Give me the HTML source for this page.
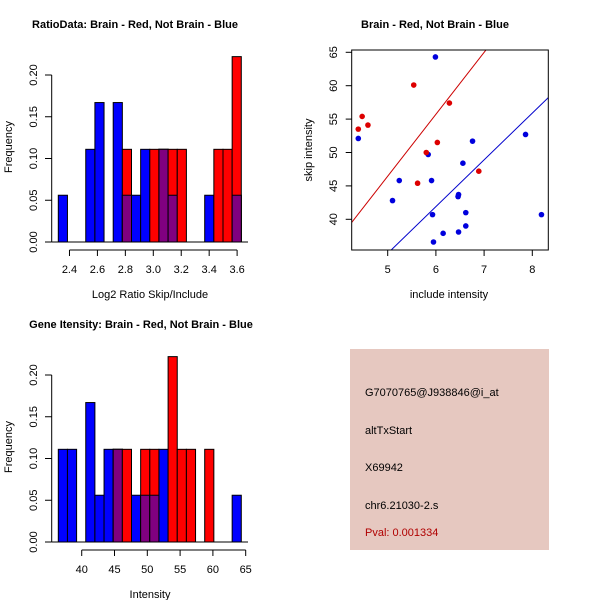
<!DOCTYPE html>
<html><head><meta charset="utf-8"><style>
body{margin:0;background:#fff}
svg{display:block;font-family:"Liberation Sans",sans-serif}
</style></head><body>
<svg id="c" width="600" height="600" xmlns="http://www.w3.org/2000/svg">
<rect width="600" height="600" fill="#fff"/>
<g id="h1"></g>
<g id="h2"></g>
<g id="sc"></g>
<g>
<rect x="350" y="349" width="199" height="201" fill="#E6C8C0"/>
<text x="365" y="396" font-size="11">G7070765@J938846@i_at</text>
<text x="365" y="434" font-size="11">altTxStart</text>
<text x="365" y="471" font-size="11">X69942</text>
<text x="365" y="509" font-size="11">chr6.21030-2.s</text>
<text x="365" y="536" font-size="11" fill="#B00000">Pval: 0.001334</text>
</g>
</svg>
<script>
const ratioBlue=[.056,0,0,.111,.167,0,.167,.056,.056,.111,0,.111,.056,0,0,0,.056,0,0,.056];
const ratioRed=[0,0,0,0,0,0,0,.111,0,0,.111,.111,.111,.111,0,0,0,.111,.111,.222];
const ratioStart=2.32, ratioBinW=0.0655;
const ratioTicks=[2.4,2.6,2.8,3.0,3.2,3.4,3.6];
const intBlue=[.111,.111,0,.167,.056,.111,.111,0,.056,.056,.056,.111,0,0,0,0,0,0,0,.056];
const intRed=[0,0,0,0,0,0,.111,.111,0,.111,.111,0,.222,.111,.111,0,.111,0,0,0];
const intStart=36.43, intBinW=1.395;
const intTicks=[40,45,50,55,60,65];
const freqTicks=[0,0.05,0.10,0.15,0.20];
const redX=[4.39,4.47,4.59,5.54,6.28,6.03,5.80,5.62,6.89];
const redY=[53.5,55.4,54.1,60.1,57.4,51.5,50.0,45.4,47.2];
const blueX=[4.39,5.99,5.84,5.24,5.10,5.91,5.93,5.95,6.15,6.47,6.47,6.46,6.62,6.62,6.56,6.76,7.86,8.19];
const blueY=[52.1,64.3,49.7,45.8,42.8,45.8,40.7,36.6,37.9,38.1,43.7,43.4,39.0,41.0,48.4,51.7,52.7,40.7];
const redFit=[0.1,9.27];
const blueFit=[-0.1,7.0];
const scXTicks=[5,6,7,8];
const scYTicks=[40,45,50,55,60,65];

const NS="http://www.w3.org/2000/svg";
function mk(p,tag,at,txt){const e=document.createElementNS(NS,tag);for(const k in at)e.setAttribute(k,at[k]);if(txt!=null)e.textContent=txt;p.appendChild(e);return e;}

function hist(gid,oy,blue,red,start,bw,xticks,tickFmt,title,xlab,tx){
  const g=document.getElementById(gid);
  const y0=242+oy, yScale=(v)=>y0-v*(167/0.2);
  const x0=58.3, w=(241.3-58.3)/20;
  const xs=(v)=>x0+(v-start)/bw*w;
  for(let i=0;i<20;i++){
    const xl=x0+i*w;
    if(blue[i]>0){const r=mk(g,'rect',{x:xl,y:yScale(blue[i]),width:w,height:y0-yScale(blue[i]),fill:'#0000FF',stroke:'#000','stroke-width':1});
      
      }
    if(red[i]>0){const r=mk(g,'rect',{x:xl,y:yScale(red[i]),width:w,height:y0-yScale(red[i]),fill:'#FF0000',stroke:'#000','stroke-width':1});
      
      }
    const m=Math.min(blue[i],red[i]);
    if(m>0){const r=mk(g,'rect',{x:xl,y:yScale(m),width:w,height:y0-yScale(m),fill:'#800080',stroke:'#000','stroke-width':1});
      
      }
  }
  mk(g,'line',{x1:51.7,x2:248,y1:y0,y2:y0,stroke:'#000'});
  mk(g,'line',{x1:51.7,x2:51.7,y1:yScale(0),y2:yScale(0.2),stroke:'#000'});
  freqTicks.forEach(t=>{const y=yScale(t);mk(g,'line',{x1:45,x2:51.7,y1:y,y2:y,stroke:'#000'});
    const l=mk(g,'text',{x:37,y:y,'font-size':11,'text-anchor':'middle',transform:`rotate(-90 37 ${y})`},t.toFixed(2));
    
    });
  const ya=250+oy;
  mk(g,'line',{x1:xs(xticks[0]),x2:xs(xticks[xticks.length-1]),y1:ya,y2:ya,stroke:'#000'});
  xticks.forEach(t=>{const x=xs(t);mk(g,'line',{x1:x,x2:x,y1:ya,y2:ya+6,stroke:'#000'});
    const l=mk(g,'text',{x:x,y:ya+23,'font-size':11,'text-anchor':'middle'},tickFmt(t));
    
    });
  const t1=mk(g,'text',{x:tx,y:28+oy,'font-size':11,'font-weight':'bold','text-anchor':'middle'},title);
  
  
  const t2=mk(g,'text',{x:150,y:298+oy,'font-size':11,'text-anchor':'middle'},xlab);
  
  
  const yc=147+oy;
  const t3=mk(g,'text',{x:12,y:yc,'font-size':11,'text-anchor':'middle',transform:`rotate(-90 12 ${yc})`},'Frequency');
  
  
}
hist('h1',0,ratioBlue,ratioRed,ratioStart,ratioBinW,ratioTicks,t=>t.toFixed(1),'RatioData: Brain - Red, Not Brain - Blue','Log2 Ratio Skip/Include',135);
hist('h2',300,intBlue,intRed,intStart,intBinW,intTicks,t=>String(t),'Gene Itensity: Brain - Red, Not Brain - Blue','Intensity',141);

(function(){
  const g=document.getElementById('sc');
  const L=351.7,R=548.3,T=50,B=250;
  const xs=v=>387.7+(v-5)*48.2, ys=v=>219.3-(v-40)*6.68;
  const ix=v=>5+(v-387.7)/48.2;
  const cp=mk(g,'clipPath',{id:'clp'});
  mk(cp,'rect',{x:L,y:T,width:R-L,height:B-T});
  [[redFit,'#CC0000','red-fit-line'],[blueFit,'#0000CC','blue-fit-line']].forEach(([f,c,n])=>{
    const a=ix(L),b=ix(R);
    const l=mk(g,'line',{x1:L,y1:ys(f[0]+f[1]*a),x2:R,y2:ys(f[0]+f[1]*b),stroke:c,'clip-path':'url(#clp)'});
    
    
  });
  blueX.forEach((x,i)=>{const c=mk(g,'circle',{cx:xs(x),cy:ys(blueY[i]),r:2.8,fill:'#0000DD'});
    
    });
  redX.forEach((x,i)=>{const c=mk(g,'circle',{cx:xs(x),cy:ys(redY[i]),r:2.8,fill:'#DD0000'});
    
    });
  mk(g,'rect',{x:L,y:T,width:R-L,height:B-T,fill:'none',stroke:'#000'});
  scXTicks.forEach(t=>{const x=xs(t);mk(g,'line',{x1:x,x2:x,y1:B,y2:B+6,stroke:'#000'});
    const l=mk(g,'text',{x:x,y:B+23,'font-size':11,'text-anchor':'middle'},String(t));
    
    });
  scYTicks.forEach(t=>{const y=ys(t);mk(g,'line',{x1:L-6,x2:L,y1:y,y2:y,stroke:'#000'});
    const l=mk(g,'text',{x:337,y:y,'font-size':11,'text-anchor':'middle',transform:`rotate(-90 337 ${y})`},String(t));
    
    });
  const t1=mk(g,'text',{x:435,y:28,'font-size':11,'font-weight':'bold','text-anchor':'middle'},'Brain - Red, Not Brain - Blue');
  
  
  const t2=mk(g,'text',{x:449,y:298,'font-size':11,'text-anchor':'middle'},'include intensity');
  
  
  const t3=mk(g,'text',{x:312,y:150,'font-size':11,'text-anchor':'middle',transform:'rotate(-90 312 150)'},'skip intensity');
  
  
})();
</script>
</body></html>
